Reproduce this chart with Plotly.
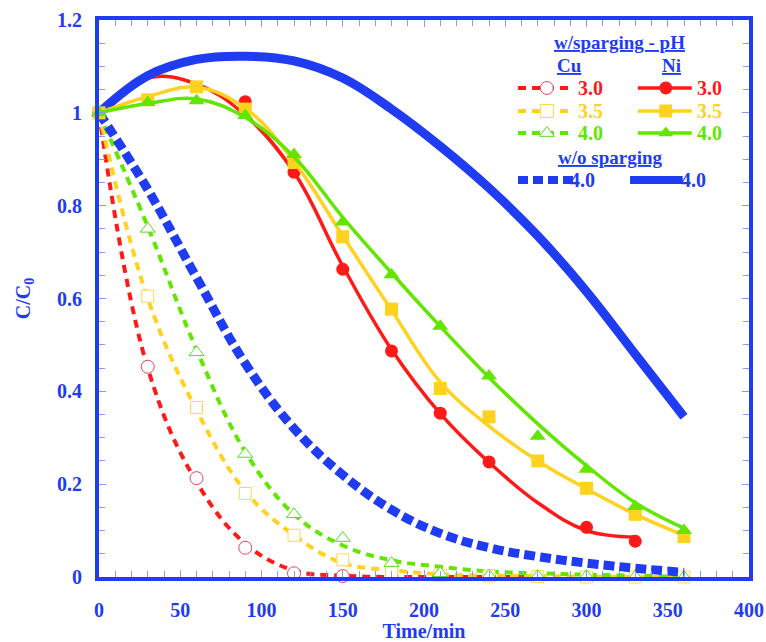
import plotly.graph_objects as go

# ---- data -------------------------------------------------------------
t_full = [0, 30, 60, 90, 120, 150, 180, 210, 240, 270, 300, 330, 360]
t_cu30 = [0, 30, 60, 90, 120, 150, 180, 210, 240]
t_ni30 = [0, 90, 120, 150, 180, 210, 240, 300, 330]
t_fit_cu30 = [0, 30, 60, 90, 120, 150, 180, 210, 240, 270]
t_fit_ni30 = [0, 30, 60, 90, 120, 150, 180, 210, 240, 270, 300, 330]

# Cu, with sparging: measured (open markers) and fitted (dashed)
cu_ph30 = [1.0, 0.453, 0.213, 0.063, 0.008, 0.002, -0.006, -0.006, -0.008]
cu_ph35 = [1.0, 0.605, 0.365, 0.18, 0.09, 0.037, 0.012, 0.004, 0.002, 0.001, 0.0, 0.0, 0.0]
cu_ph40 = [1.0, 0.75, 0.484, 0.265, 0.135, 0.084, 0.03, 0.008, 0.003, 0.002, 0.002, 0.001, 0.0]
cu_ph30_fit = [1.0, 0.45, 0.205, 0.072, 0.014, 0.003, 0.0, 0.0, 0.0, 0.0]
cu_ph35_fit = [1.0, 0.6, 0.36, 0.185, 0.09, 0.03, 0.015, 0.006, 0.003, 0.002, 0.001, 0.0, 0.0]
cu_ph40_fit = [1.0, 0.755, 0.49, 0.27, 0.135, 0.068, 0.036, 0.022, 0.012, 0.008, 0.005, 0.003, 0.0]

# Ni, with sparging: measured (filled markers) and fitted (solid)
ni_ph30 = [1.0, 1.024, 0.872, 0.663, 0.487, 0.353, 0.248, 0.107, 0.077]
ni_ph35 = [1.0, 1.028, 1.056, 1.008, 0.893, 0.733, 0.577, 0.406, 0.345, 0.25, 0.191, 0.135, 0.087]
ni_ph40 = [1.0, 1.022, 1.026, 0.994, 0.91, 0.765, 0.651, 0.54, 0.433, 0.303, 0.232, 0.152, 0.1]
ni_ph30_fit = [1.0, 1.075, 1.062, 0.995, 0.872, 0.67, 0.49, 0.352, 0.247, 0.16, 0.1, 0.086]
ni_ph35_fit = [1.0, 1.035, 1.055, 1.01, 0.895, 0.735, 0.575, 0.42, 0.325, 0.25, 0.19, 0.135, 0.09]
ni_ph40_fit = [1.0, 1.02, 1.03, 0.99, 0.905, 0.775, 0.655, 0.54, 0.43, 0.33, 0.24, 0.16, 0.105]

# without sparging, pH 4.0 (fitted curves only)
cu_nosp = [1.0, 0.835, 0.645, 0.46, 0.32, 0.22, 0.145, 0.094, 0.063, 0.044, 0.03, 0.019, 0.01]
ni_nosp = [1.0, 1.08, 1.115, 1.122, 1.112, 1.075, 1.008, 0.928, 0.838, 0.735, 0.615, 0.48, 0.345]

x_ticks = [0, 50, 100, 150, 200, 250, 300, 350, 400]
y_ticks = [0, 0.2, 0.4, 0.6, 0.8, 1, 1.2]

# ---- style ------------------------------------------------------------
BLUE = "#1f3cf2"
RED = "#ff1a1a"
YEL = "#ffd21f"
GRN = "#62e600"
RED_M = "#f04060"
YEL_M = "#ffd84a"
GRN_M = "#55dd22"
TICK = "#8f95ff"
FONT = "Liberation Serif"

fig = go.Figure()


def line(x, y, color, width, dash="solid"):
    fig.add_trace(go.Scatter(
        x=x, y=y, mode="lines", cliponaxis=False, showlegend=False,
        line=dict(color=color, width=width, dash=dash, shape="spline", smoothing=1.1),
    ))


def points(x, y, symbol, fill, edge, size=13, outline=0):
    fig.add_trace(go.Scatter(
        x=x, y=y, mode="markers", cliponaxis=False, showlegend=False,
        marker=dict(symbol=symbol, size=size, color=fill,
                    line=dict(color=edge, width=outline)),
    ))


CU_DASH = "8px,6px"
line(t_fit_cu30, cu_ph30_fit, RED, 4, CU_DASH)
line(t_full, cu_ph35_fit, YEL, 4, CU_DASH)
line(t_full, cu_ph40_fit, GRN, 4, CU_DASH)
points(t_cu30, cu_ph30, "circle", "white", RED_M, 13, 1)
points(t_full, cu_ph35, "square", "white", YEL_M, 12, 1)
points(t_full, cu_ph40, "triangle-up", "white", GRN_M, 13, 1)

line(t_full, cu_nosp, BLUE, 9, "11px,5px")

line(t_fit_ni30, ni_ph30_fit, RED, 3.5)
points(t_ni30, ni_ph30, "circle", RED, RED, 13)
line(t_full, ni_nosp, BLUE, 9)
line(t_full, ni_ph35_fit, YEL, 3.5)
points(t_full, ni_ph35, "square", YEL, YEL, 13)
line(t_full, ni_ph40_fit, GRN, 3.5)
points(t_full, ni_ph40, "triangle-up", GRN, GRN, 14)

# ---- key (drawn on an overlay axis spanning the plot area) ------------
row_y = [0.878, 0.8366, 0.797]
key_rows = [
    ("3.0", RED, "circle", RED_M),
    ("3.5", YEL, "square", YEL_M),
    ("4.0", GRN, "triangle-up", GRN_M),
]
cu_x0, cu_x1, cu_xm, cu_xt = 0.6446, 0.7292, 0.689, 0.734
ni_x0, ni_x1, ni_xm, ni_xt = 0.829, 0.912, 0.872, 0.917

for (lab, col, sym, mcol), yy in zip(key_rows, row_y):
    fig.add_trace(go.Scatter(
        x=[cu_x0, cu_x1], y=[yy, yy], xaxis="x2", yaxis="y2", mode="lines",
        showlegend=False, hoverinfo="skip",
        line=dict(color=col, width=4, dash=CU_DASH)))
    fig.add_trace(go.Scatter(
        x=[cu_xm], y=[yy], xaxis="x2", yaxis="y2", mode="markers",
        showlegend=False, hoverinfo="skip",
        marker=dict(symbol=sym, size=13, color="white",
                    line=dict(color=mcol, width=1))))
    fig.add_trace(go.Scatter(
        x=[ni_x0, ni_x1], y=[yy, yy], xaxis="x2", yaxis="y2", mode="lines",
        showlegend=False, hoverinfo="skip", line=dict(color=col, width=3.5)))
    fig.add_trace(go.Scatter(
        x=[ni_xm], y=[yy], xaxis="x2", yaxis="y2", mode="markers",
        showlegend=False, hoverinfo="skip",
        marker=dict(symbol=sym, size=13, color=col, line=dict(width=0))))
    for xt in (cu_xt, ni_xt):
        fig.add_annotation(x=xt, y=yy, xref="paper", yref="paper", text=lab,
                           showarrow=False, xanchor="left", yanchor="middle",
                           font=dict(family=FONT, size=20, color=col, weight="bold"))

wo_y = 0.7127
fig.add_trace(go.Scatter(
    x=[0.6446, 0.7292], y=[wo_y, wo_y], xaxis="x2", yaxis="y2", mode="lines",
    showlegend=False, hoverinfo="skip",
    line=dict(color=BLUE, width=8, dash="10px,5px")))
fig.add_trace(go.Scatter(
    x=[0.817, 0.898], y=[wo_y, wo_y], xaxis="x2", yaxis="y2", mode="lines",
    showlegend=False, hoverinfo="skip", line=dict(color=BLUE, width=8)))
for xt in (0.722, 0.893):
    fig.add_annotation(x=xt, y=wo_y, xref="paper", yref="paper", text="4.0",
                       showarrow=False, xanchor="left", yanchor="middle",
                       font=dict(family=FONT, size=20, color=BLUE, weight="bold"))

for txt, xx, yy in [("w/sparging - pH", 0.8015, 0.9605), ("Cu", 0.7246, 0.919),
                    ("Ni", 0.8815, 0.919), ("w/o sparging", 0.786, 0.754)]:
    fig.add_annotation(x=xx, y=yy, xref="paper", yref="paper", text=txt,
                       showarrow=False, xanchor="center", yanchor="middle",
                       font=dict(family=FONT, size=19, color=BLUE, weight="bold",
                                 lineposition="under"))

# ---- axes -------------------------------------------------------------
axis_common = dict(
    showline=True, linecolor=BLUE, linewidth=4, mirror="ticks",
    ticks="inside", ticklen=7, tickwidth=1, tickcolor=TICK,
    showgrid=False, zeroline=False, automargin=False,
    tickfont=dict(family=FONT, size=20, color=BLUE, weight="bold"),
)

fig.update_layout(
    width=766, height=642,
    margin=dict(l=99, r=17, t=20, b=65),
    paper_bgcolor="white", plot_bgcolor="white",
    showlegend=False,
    xaxis=dict(
        range=[0, 400], tickvals=x_ticks, ticklabelstandoff=12,
        minor=dict(dtick=10, ticks="inside", ticklen=6, tickwidth=1, tickcolor=TICK),
        title=dict(text="Time/min", standoff=6,
                   font=dict(family=FONT, size=20, color=BLUE, weight="bold")),
        **axis_common),
    yaxis=dict(
        range=[0, 1.2], tickvals=y_ticks, ticklabelstandoff=9,
        minor=dict(dtick=0.05, ticks="inside", ticklen=6, tickwidth=1, tickcolor=TICK),
        title=dict(text="C/C<sub>0</sub>", standoff=22,
                   font=dict(family=FONT, size=20, color=BLUE, weight="bold")),
        **axis_common),
    xaxis2=dict(range=[0, 1], overlaying="x", visible=False, fixedrange=True),
    yaxis2=dict(range=[0, 1], overlaying="y", visible=False, fixedrange=True),
)

fig.write_html("out.html")
